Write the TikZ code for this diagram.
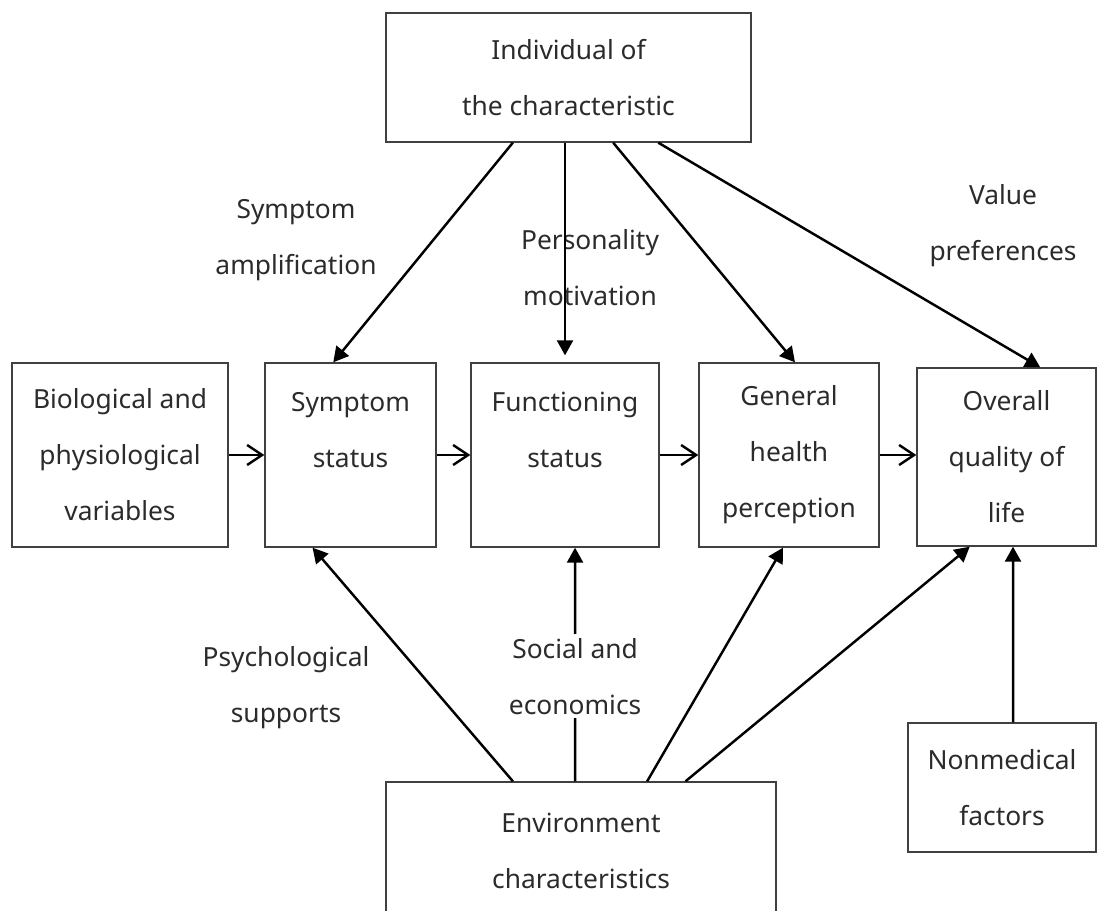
\documentclass[tikz,border=0pt]{standalone}
\usepackage{fontspec}
\setmainfont{Noto Sans}
\usepackage{tikz}
\usetikzlibrary{arrows.meta,calc,positioning}
\definecolor{boxgray}{HTML}{404040}
\definecolor{textgray}{HTML}{2B2B2B}
\tikzset{
  box/.style={draw=boxgray,line width=0.8pt,align=center,inner sep=0pt,text=textgray,
    font=\fontsize{15}{31.9}\selectfont},
  tag/.style={align=center,inner sep=2pt,text=textgray,font=\fontsize{15}{31.9}\selectfont},
  influence/.style={-{Triangle[length=0.3cm,width=0.32cm]},line width=1.4pt},
  flow/.style={-{Straight Barb[length=0.3cm,width=0.4cm]},line width=1.4pt}
}

\begin{document}
\begin{tikzpicture}[x=0.02cm,y=-0.02cm]
  \useasboundingbox (0,0) rectangle (1104,911);
  \clip (0,0) rectangle (1104,911);
  % boxes
  \node[box,minimum width=7.30cm,minimum height=2.58cm] (indiv) at (568.5,77.5) {Individual of\\the characteristic};
  \node[box,minimum width=4.32cm,minimum height=3.68cm] (bio) at (120,455) {Biological and\\physiological\\variables};
  \node[box,minimum width=3.42cm,minimum height=3.68cm] (symptom) at (350.5,455) {Symptom\\status\\[-0.44cm]\strut};
  \node[box,minimum width=3.76cm,minimum height=3.68cm] (function) at (565,455) {Functioning\\status\\[-0.44cm]\strut};
  \node[box,minimum width=3.60cm,minimum height=3.68cm] (general) at (789,455) {General\\health\\perception};
  \node[box,minimum width=3.58cm,minimum height=3.56cm] (overall) at (1006.5,457) {Overall\\quality of\\life};
  \node[box,minimum width=3.76cm,minimum height=2.58cm] (nonmed) at (1002,787.5) {Nonmedical\\factors};
  \node[box,minimum width=7.80cm,minimum height=2.76cm] (env) at (581,851) {Environment\\characteristics};
  % free labels
  \node[tag] (amp) at (296,240) {Symptom\\amplification};
  \node[tag] (pers) at (590,268) {Personality\\motivation};
  \node[tag] (value) at (1003,226) {Value\\preferences};
  \node[tag] (psych) at (286,688) {Psychological\\supports};
  % from the individual
  \draw[influence] ($(indiv.south west)!0.348!(indiv.south east)$) -- ($(symptom.north west)!0.40!(symptom.north east)$);
  \draw[influence,shorten >=0.14cm] (function.north |- indiv.south) -- (function.north);
  \draw[influence] ($(indiv.south west)!0.622!(indiv.south east)$) -- ($(general.north west)!0.533!(general.north east)$);
  \draw[influence] ($(indiv.south west)!0.745!(indiv.south east)$) -- ($(overall.north west)!0.687!(overall.north east)$);
  % main chain
  \draw[flow] (bio) -- (symptom);
  \draw[flow] (symptom) -- (function);
  \draw[flow] (function) -- (general);
  \draw[flow] (general.east) -- (general.east -| overall.west);
  % from the environment
  \draw[influence] ($(env.north west)!0.326!(env.north east)$) -- ($(symptom.south west)!0.28!(symptom.south east)$);
  \draw[influence] ($(env.north west)!0.485!(env.north east)$) --
    node[tag,fill=white,pos=0.45] (social) {Social and\\economics}
    ($(function.south west)!0.553!(function.south east)$);
  \draw[influence] ($(env.north west)!0.669!(env.north east)$) -- ($(general.south west)!0.467!(general.south east)$);
  \draw[influence] ($(env.north west)!0.767!(env.north east)$) -- ($(overall.south west)!0.296!(overall.south east)$);
  \draw[influence] ($(nonmed.north west)!0.559!(nonmed.north east)$) -- ($(overall.south west)!0.536!(overall.south east)$);
\end{tikzpicture}
\end{document}
